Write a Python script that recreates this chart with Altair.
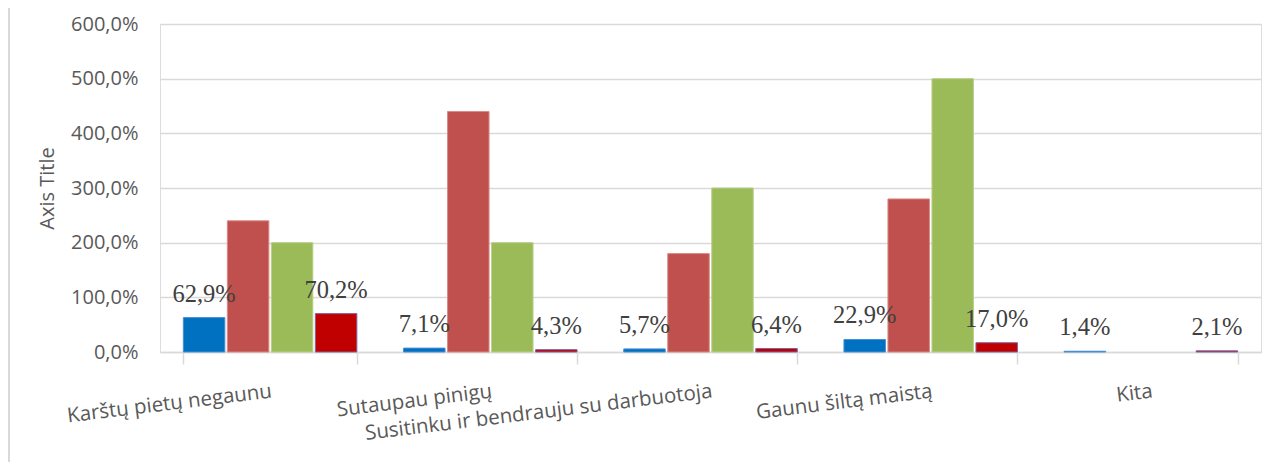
import altair as alt
import pandas as pd

categories = [
    "Karštų pietų negaunu",
    "Sutaupau pinigų",
    "Susitinku ir bendrauju su darbuotoja",
    "Gaunu šiltą maistą",
    "Kita",
]
series_names = ["Series 1", "Series 2", "Series 3", "Series 4"]
series1 = [62.9, 7.1, 5.7, 22.9, 1.4]
series2 = [240.0, 440.0, 180.0, 280.0, 0.0]
series3 = [200.0, 200.0, 300.0, 500.0, 0.0]
series4 = [70.2, 4.3, 6.4, 17.0, 2.1]
labelled_series = ["Series 1", "Series 4"]
y_ticks = [0, 100, 200, 300, 400, 500, 600]

bar_colors = ["#0070C0", "#C0504D", "#9BBB59", "#C00000"]
bar_strokes = ["#4A8FD6", "#D98A88", "#B9D08A", "#8064A2"]

rows = []
for name, vals in zip(series_names, [series1, series2, series3, series4]):
    for cat, v in zip(categories, vals):
        rows.append({"category": cat, "series": name, "value": v})
df = pd.DataFrame(rows)

FONT = "Open Sans"
W, H = 1101, 328

x_enc = alt.X(
    "category:N",
    sort=categories,
    scale=alt.Scale(paddingInner=0.212, paddingOuter=0.106),
    axis=alt.Axis(
        title=None,
        labelAngle=-7,
        labelAlign="right",
        labelBaseline="top",
        labelFont=FONT,
        labelFontSize=20.5,
        labelColor="#595959",
        labelPadding=17,
        labelLimit=500,
        labelOverlap=False,
        domainColor="#D9D9D9",
        domainWidth=1.5,
        tickColor="#D9D9D9",
        tickWidth=1.5,
        tickSize=12,
        tickBand="extent",
        grid=False,
    ),
)
xoff_enc = alt.XOffset(
    "series:N", sort=series_names, scale=alt.Scale(paddingInner=0.057, paddingOuter=0)
)
y_enc = alt.Y(
    "value:Q",
    scale=alt.Scale(domain=[0, 600], nice=False),
    axis=alt.Axis(
        title="Axis Title",
        titleFont=FONT,
        titleFontSize=20,
        titleFontWeight="normal",
        titleColor="#595959",
        titlePadding=13,
        values=y_ticks,
        labelExpr="replace(format(datum.value, '.1f'), '.', ',') + '%'",
        labelFont=FONT,
        labelFontSize=20,
        labelColor="#595959",
        labelPadding=22,
        ticks=False,
        domain=False,
        grid=True,
        gridColor="#D9D9D9",
        gridWidth=1.5,
    ),
)

bars = alt.Chart(df).transform_filter("datum.value > 0").mark_bar(strokeWidth=1).encode(
    x=x_enc,
    xOffset=xoff_enc,
    y=y_enc,
    color=alt.Color(
        "series:N", sort=series_names,
        scale=alt.Scale(domain=series_names, range=bar_colors), legend=None
    ),
    stroke=alt.Stroke(
        "series:N", sort=series_names,
        scale=alt.Scale(domain=series_names, range=bar_strokes), legend=None
    ),
)

labels = alt.Chart(df).transform_filter(
    alt.FieldOneOfPredicate(field="series", oneOf=labelled_series)
).transform_calculate(
    label="replace(format(datum.value, '.1f'), '.', ',') + '%'"
).mark_text(
    font="Liberation Serif", fontSize=24.5, color="#404040",
    baseline="alphabetic", align="center", dy=-16
).encode(
    x=alt.X("category:N", sort=categories),
    xOffset=alt.XOffset("series:N", sort=series_names),
    y=alt.Y("value:Q"),
    text="label:N",
)

border = alt.Chart(df).mark_rule(color="#D9D9D9", strokeWidth=1.5, clip=False).encode(
    x=alt.value(-151), y=alt.value(-20), y2=alt.value(H + 130)
)

chart = alt.layer(bars, labels, border).properties(
    width=W,
    height=H,
    padding={"left": 152, "top": 16, "right": 6, "bottom": 110},
    autosize=alt.AutoSizeParams(type="none"),
).configure_view(stroke=None).configure(background="white")

chart.save("out.html", embed_options={"renderer": "svg", "actions": False})
